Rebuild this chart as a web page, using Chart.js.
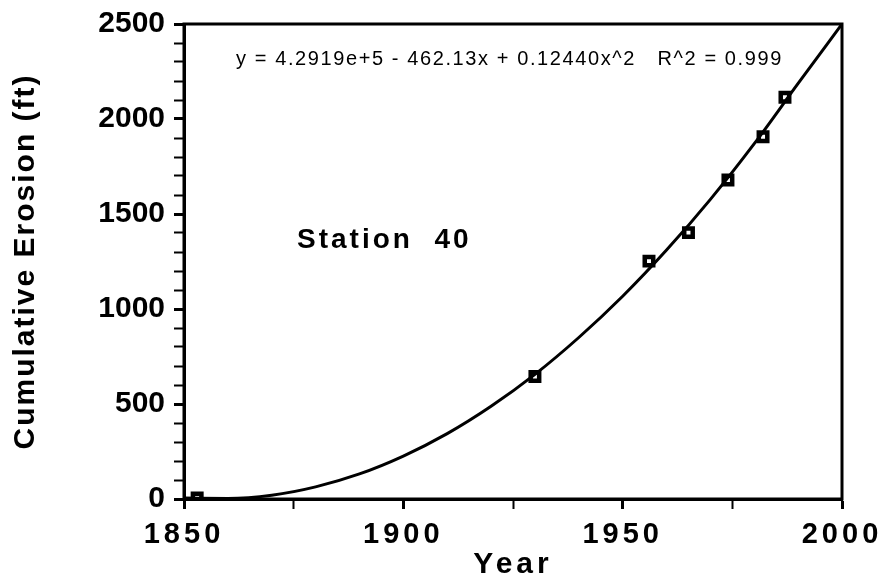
<!DOCTYPE html>
<html>
<head>
<meta charset="utf-8">
<script src="https://cdn.jsdelivr.net/npm/chart.js@4.4.0/dist/chart.umd.min.js"></script>
<style>
  html, body { margin: 0; padding: 0; background: #fff; }
  #wrap { width: 887px; height: 582px; }
</style>
</head>
<body>
<div id="wrap"><canvas id="erosionChart" width="887" height="582"></canvas></div>
<script>
// measured points (Station 40)
const years = [1853, 1930, 1956, 1965, 1974, 1982, 1987];
const erosion = [5, 645, 1252, 1402, 1679, 1907, 2115];

// fitted curve
const fitYears = [1850, 1860, 1870, 1880, 1890, 1900, 1910, 1920, 1930, 1940, 1950, 1960, 1970, 1980, 1990, 2000];
const fitErosion = [5, 3, 20, 64, 132, 226, 344, 488, 656, 850, 1067, 1310, 1577, 1870, 2187, 2500];

const xTicks = [1850, 1900, 1950, 2000];
const yTicks = [0, 500, 1000, 1500, 2000, 2500];

const equationText = "y = 4.2919e+5 - 462.13x + 0.12440x^2   R^2 = 0.999";
const stationText = "Station  40";

const FONT = "'Liberation Sans', Arial, Helvetica, sans-serif";

// spaced lettering for the axis labels / titles
const spacedAxes = {
  id: "spacedAxes",
  afterLayout(chart) {
    const sx = chart.scales.x;
    if (sx._spaced) return;
    sx._spaced = true;
    const lab = sx.drawLabels, ttl = sx.drawTitle;
    sx.drawLabels = function (area) {
      this.ctx.save();
      this.ctx.letterSpacing = "4px";
      lab.call(this, area);
      this.ctx.restore();
    };
    sx.drawTitle = function () {
      this.ctx.save();
      this.ctx.letterSpacing = "4px";
      ttl.call(this);
      this.ctx.restore();
    };
    const sy = chart.scales.y;
    const ttlY = sy.drawTitle;
    sy.drawTitle = function () {
      this.ctx.save();
      this.ctx.letterSpacing = "2px";
      ttlY.call(this);
      this.ctx.restore();
    };
  },
};

// box round the plot + text notes
const frameAndNotes = {
  id: "frameAndNotes",
  beforeDraw(chart) {
    const ctx = chart.ctx;
    ctx.save();
    ctx.fillStyle = "#fff";
    ctx.fillRect(0, 0, chart.width, chart.height);
    ctx.restore();
  },
  afterDatasetsDraw(chart) {
    const { ctx, chartArea: a } = chart;
    ctx.save();
    ctx.strokeStyle = "#000";
    ctx.lineWidth = 3;
    ctx.strokeRect(a.left, a.top, a.right - a.left, a.bottom - a.top);

    ctx.fillStyle = "#000";
    ctx.textBaseline = "middle";
    ctx.textAlign = "left";
    ctx.font = "20px " + FONT;
    ctx.letterSpacing = "1.6px";
    ctx.fillText(equationText, a.left + 52, a.top + 35);

    ctx.font = "bold 28px " + FONT;
    ctx.letterSpacing = "3px";
    ctx.fillText(stationText, a.left + 113, a.top + 216);
    ctx.restore();
  },
};

new Chart(document.getElementById("erosionChart"), {
  type: "line",
  data: {
    datasets: [
      {
        label: "fit",
        data: fitYears.map((x, i) => ({ x: x, y: fitErosion[i] })),
        borderColor: "#000",
        borderWidth: 3,
        pointRadius: 0,
        cubicInterpolationMode: "monotone",
        fill: false,
      },
      {
        label: "measured",
        data: years.map((x, i) => ({ x: x, y: erosion[i] })),
        showLine: false,
        pointStyle: "rect",
        pointRadius: 6,
        pointBorderWidth: 4.5,
        pointBorderColor: "#000",
        pointBackgroundColor: "#fff",
      },
    ],
  },
  options: {
    responsive: false,
    animation: false,
    layout: { padding: { left: 0, top: 18, right: 45, bottom: 0 } },
    plugins: { legend: { display: false }, tooltip: { enabled: false } },
    scales: {
      x: {
        type: "linear",
        min: 1850,
        max: 2000,
        afterFit: (s) => { s.height = 83; },
        border: { display: true, color: "#000", width: 3 },
        grid: {
          drawOnChartArea: false, drawTicks: true, tickLength: 10, tickColor: "#000",
          tickWidth: (c) => (c.tick && xTicks.includes(c.tick.value) ? 3 : 2),
        },
        ticks: {
          stepSize: 25,
          autoSkip: false,
          maxRotation: 0,
          padding: 11,
          color: "#000",
          font: { family: FONT, size: 29, weight: "bold", lineHeight: 1 },
          callback: (v) => (xTicks.includes(v) ? String(v) : ""),
        },
        title: {
          display: true,
          text: "Year",
          color: "#000",
          padding: { top: 0, bottom: 2 },
          font: { family: FONT, size: 30, weight: "bold", lineHeight: 1 },
        },
      },
      y: {
        min: 0,
        max: 2500,
        afterFit: (s) => { s.width = 184; },
        border: { display: true, color: "#000", width: 3 },
        grid: {
          drawOnChartArea: false, drawTicks: true, tickLength: 10, tickColor: "#000",
          tickWidth: (c) => (c.tick && yTicks.includes(c.tick.value) ? 3 : 2),
        },
        ticks: {
          stepSize: 100,
          autoSkip: false,
          padding: 9,
          color: "#000",
          font: { family: FONT, size: 30, weight: "bold", lineHeight: 1 },
          callback: (v) => (yTicks.includes(v) ? String(v) : ""),
        },
        title: {
          display: true,
          text: "Cumulative Erosion (ft)",
          color: "#000",
          padding: { top: 8, bottom: 0 },
          font: { family: FONT, size: 30, weight: "bold", lineHeight: 1.2 },
        },
      },
    },
  },
  plugins: [spacedAxes, frameAndNotes],
});
</script>
</body>
</html>
